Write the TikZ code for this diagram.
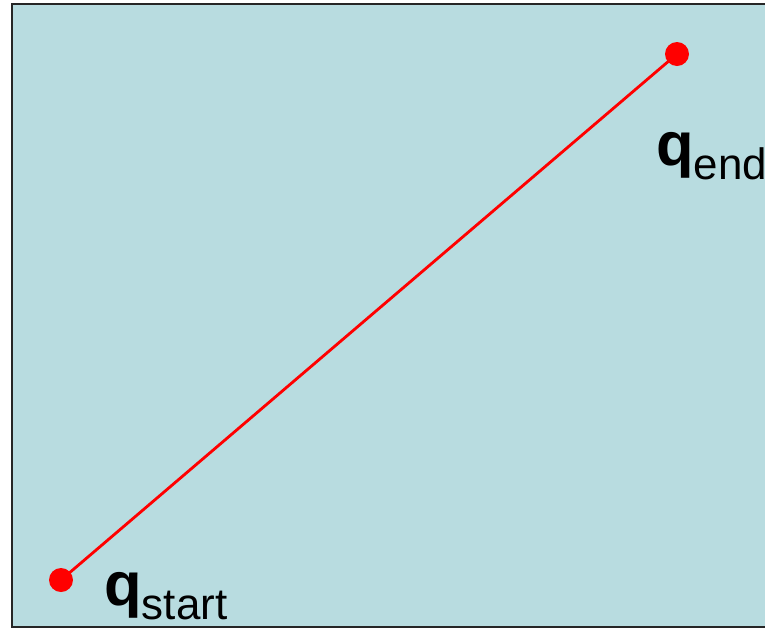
\documentclass[tikz,border=0pt]{standalone}
\usepackage{fontspec}
\setmainfont{Liberation Sans}
\usetikzlibrary{positioning}

\newcommand{\qlab}[1]{{\fontsize{35}{35}\selectfont\bfseries q}{\fontsize{25}{25}\selectfont\raisebox{-8pt}{#1}}}

\definecolor{cspace}{RGB}{184,220,224}

\begin{document}
\begin{tikzpicture}[
    x=0.02cm, y=-0.02cm,
    dot/.style={circle, fill=red, inner sep=0pt, minimum size=0.48cm},
    segment/.style={red, line width=1.6pt},
    label/.style={inner sep=0pt, anchor=base west},
]
\useasboundingbox (0,0) rectangle (765,630);
\clip (0,0) rectangle (765,630);

% Configuration space
\draw[fill=cspace, draw=black!85, line width=1.3pt] (12,4) rectangle (790,627);

% End points
\node[dot] (qs) at (61,580) {};
\node[dot] (qe) at (677,54) {};

% Straight path
\draw[segment] (qs.center) -- (qe.center);

% Labels
\node[label] (ls) at (104,605) {\qlab{start}};
\node[label] (le) at (656,165) {\qlab{end}};

\end{tikzpicture}
\end{document}
